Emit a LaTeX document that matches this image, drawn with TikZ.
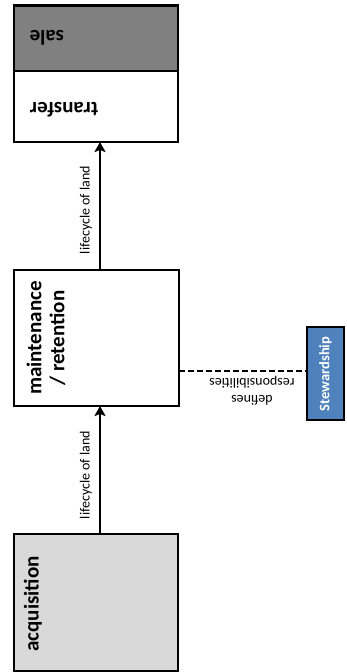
\documentclass[tikz,border=0pt]{standalone}
\usepackage{fontspec}
\setmainfont{Carlito}
\usetikzlibrary{arrows.meta,calc}
\definecolor{stewblue}{RGB}{79,129,189}

\begin{document}
\begin{tikzpicture}[x=1pt, y=-1pt, outer sep=0pt, >={Stealth[length=10pt,width=11pt,inset=2pt]}]

\tikzset{
  stage/.style={draw, rectangle, line width=2.2pt, inner sep=0pt},
  bigtext/.style={font=\fontsize{21}{23}\selectfont\bfseries},
  smalltext/.style={font=\fontsize{14}{17}\selectfont},
}

\useasboundingbox (0,0) rectangle (347,672);

\node [stage, fill=gray, minimum width=164pt, minimum height=66pt] at (96, 38.5) (SALE) {};
\node [stage, fill=white, minimum width=164pt, minimum height=71pt] at (96, 106.5) (TRANSFER) {};
\node [stage, fill=white, minimum width=165pt, minimum height=136pt] at (96.5, 338) (MAINT) {};
\node [stage, fill=black!15, minimum width=164pt, minimum height=137pt] at (96, 602.5) (ACQ) {};
\node [stage, fill=stewblue, minimum width=37pt, minimum height=93pt] at (325.5, 373.5) (STEW) {};

\node [bigtext, rotate=180] at (47, 38) (SALET) {sale};
\node [bigtext, rotate=180] at (64, 110) (TRANSFERT) {transfer};
\node [bigtext, rotate=90, align=center] at (46, 338) (MAINTT) {maintenance\\/ retention};
\node [bigtext, rotate=90] at (33, 604) (ACQT) {acquisition};
\node [text=white, rotate=90, font=\fontsize{14.5}{15}\selectfont\bfseries] at (325.5, 374) (STEWT) {Stewardship};

%\node at ($(MAINT)!0.5!(TRANSFER)$) (MID) {};
\draw [->, line width=2pt] ($(ACQ.north)+(4,0)$) -- ($(MAINT.south)+(3.5,0)$);
\draw [->, line width=2pt] ($(MAINT.north)+(3.5,0)$) -- ($(TRANSFER.south)+(4,0)$);

\node [smalltext, rotate=90] at (86, 475) (LIFE1) {lifecycle of land};
\node [smalltext, rotate=90] at (86, 210) (LIFE2) {lifecycle of land};

\draw [dashed, line width=1.8pt, dash pattern=on 6pt off 3pt] ($(MAINT.east)+(0,33)$) -- ($(STEW.west)+(0,-2.5)$);
\node [smalltext, rotate=180, align=center] at (252, 391) (DEF) {defines\\responsibilities};

\end{tikzpicture}
\end{document}
